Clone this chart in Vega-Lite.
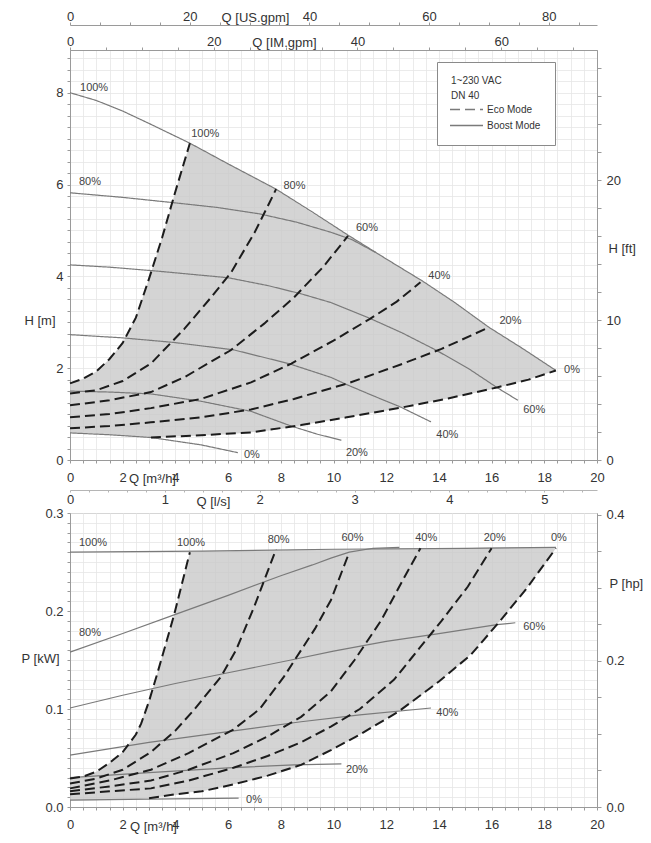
{
  "$schema": "https://vega.github.io/schema/vega-lite/v6.json",
  "padding": {"left": 20, "top": 9, "right": 5, "bottom": 5},
  "spacing": 53,
  "bounds": "flush",
  "config": {
    "font": "Liberation Sans",
    "view": {"stroke": "#9a9a9a", "strokeWidth": 1},
    "axis": {
      "labelFont": "Liberation Sans", "labelFontSize": 13, "labelColor": "#333",
      "titleFont": "Liberation Sans", "titleFontSize": 13, "titleFontWeight": "normal", "titleColor": "#333",
      "domainColor": "#9a9a9a", "tickColor": "#9a9a9a", "gridColor": "#e6e6e6", "gridWidth": 0.8,
      "tickSize": 3, "labelFlush": false, "labelOverlap": false, "labelBound": false
    }
  },
  "datasets": {
    "head": [
      {"curve":"100%","mode":"Boost Mode","q":0,"h":8.0},{"curve":"100%","mode":"Boost Mode","q":1,"h":7.83},{"curve":"100%","mode":"Boost Mode","q":2,"h":7.6},{"curve":"100%","mode":"Boost Mode","q":3,"h":7.33},{"curve":"100%","mode":"Boost Mode","q":4.55,"h":6.9},{"curve":"100%","mode":"Boost Mode","q":6,"h":6.45},{"curve":"100%","mode":"Boost Mode","q":7.82,"h":5.9},{"curve":"100%","mode":"Boost Mode","q":9.2,"h":5.4},{"curve":"100%","mode":"Boost Mode","q":10.6,"h":4.88},{"curve":"100%","mode":"Boost Mode","q":12,"h":4.38},{"curve":"100%","mode":"Boost Mode","q":13.4,"h":3.89},{"curve":"100%","mode":"Boost Mode","q":14.6,"h":3.43},{"curve":"100%","mode":"Boost Mode","q":15.9,"h":2.89},{"curve":"100%","mode":"Boost Mode","q":17.2,"h":2.42},{"curve":"100%","mode":"Boost Mode","q":18.44,"h":1.95},
      {"curve":"80%","mode":"Boost Mode","q":0,"h":5.82},{"curve":"80%","mode":"Boost Mode","q":2,"h":5.72},{"curve":"80%","mode":"Boost Mode","q":4,"h":5.6},{"curve":"80%","mode":"Boost Mode","q":5.6,"h":5.5},{"curve":"80%","mode":"Boost Mode","q":7.2,"h":5.36},{"curve":"80%","mode":"Boost Mode","q":8.6,"h":5.18},{"curve":"80%","mode":"Boost Mode","q":9.9,"h":4.96},{"curve":"80%","mode":"Boost Mode","q":10.7,"h":4.8},{"curve":"80%","mode":"Boost Mode","q":11.6,"h":4.52},
      {"curve":"60%","mode":"Boost Mode","q":0,"h":4.25},{"curve":"60%","mode":"Boost Mode","q":1.5,"h":4.2},{"curve":"60%","mode":"Boost Mode","q":3.2,"h":4.12},{"curve":"60%","mode":"Boost Mode","q":6,"h":3.97},{"curve":"60%","mode":"Boost Mode","q":7.5,"h":3.8},{"curve":"60%","mode":"Boost Mode","q":8.77,"h":3.62},{"curve":"60%","mode":"Boost Mode","q":9.9,"h":3.43},{"curve":"60%","mode":"Boost Mode","q":11.4,"h":3.08},{"curve":"60%","mode":"Boost Mode","q":12.6,"h":2.77},{"curve":"60%","mode":"Boost Mode","q":13.9,"h":2.39},{"curve":"60%","mode":"Boost Mode","q":15.1,"h":2.0},{"curve":"60%","mode":"Boost Mode","q":16.2,"h":1.58},{"curve":"60%","mode":"Boost Mode","q":17,"h":1.3},
      {"curve":"40%","mode":"Boost Mode","q":0,"h":2.73},{"curve":"40%","mode":"Boost Mode","q":2,"h":2.66},{"curve":"40%","mode":"Boost Mode","q":3.95,"h":2.56},{"curve":"40%","mode":"Boost Mode","q":6.2,"h":2.4},{"curve":"40%","mode":"Boost Mode","q":8.3,"h":2.1},{"curve":"40%","mode":"Boost Mode","q":9.9,"h":1.8},{"curve":"40%","mode":"Boost Mode","q":10.55,"h":1.63},{"curve":"40%","mode":"Boost Mode","q":11.5,"h":1.4},{"curve":"40%","mode":"Boost Mode","q":12.56,"h":1.15},{"curve":"40%","mode":"Boost Mode","q":13.7,"h":0.83},
      {"curve":"20%","mode":"Boost Mode","q":0,"h":1.5},{"curve":"20%","mode":"Boost Mode","q":1.5,"h":1.48},{"curve":"20%","mode":"Boost Mode","q":3.07,"h":1.44},{"curve":"20%","mode":"Boost Mode","q":4.97,"h":1.28},{"curve":"20%","mode":"Boost Mode","q":6.87,"h":1.06},{"curve":"20%","mode":"Boost Mode","q":8.39,"h":0.74},{"curve":"20%","mode":"Boost Mode","q":9.4,"h":0.56},{"curve":"20%","mode":"Boost Mode","q":10.3,"h":0.43},
      {"curve":"0%","mode":"Boost Mode","q":0,"h":0.59},{"curve":"0%","mode":"Boost Mode","q":1.5,"h":0.55},{"curve":"0%","mode":"Boost Mode","q":3.07,"h":0.49},{"curve":"0%","mode":"Boost Mode","q":4.97,"h":0.33},{"curve":"0%","mode":"Boost Mode","q":6.37,"h":0.16},
      {"curve":"100%","mode":"Eco Mode","q":0,"h":1.67},{"curve":"100%","mode":"Eco Mode","q":0.5,"h":1.77},{"curve":"100%","mode":"Eco Mode","q":1,"h":1.93},{"curve":"100%","mode":"Eco Mode","q":1.5,"h":2.2},{"curve":"100%","mode":"Eco Mode","q":2,"h":2.55},{"curve":"100%","mode":"Eco Mode","q":2.5,"h":3.1},{"curve":"100%","mode":"Eco Mode","q":3,"h":3.95},{"curve":"100%","mode":"Eco Mode","q":3.5,"h":4.85},{"curve":"100%","mode":"Eco Mode","q":4,"h":5.85},{"curve":"100%","mode":"Eco Mode","q":4.55,"h":6.9},
      {"curve":"80%","mode":"Eco Mode","q":0,"h":1.45},{"curve":"80%","mode":"Eco Mode","q":1,"h":1.52},{"curve":"80%","mode":"Eco Mode","q":2,"h":1.72},{"curve":"80%","mode":"Eco Mode","q":3.07,"h":2.1},{"curve":"80%","mode":"Eco Mode","q":4.33,"h":2.85},{"curve":"80%","mode":"Eco Mode","q":5.35,"h":3.54},{"curve":"80%","mode":"Eco Mode","q":6.11,"h":4.08},{"curve":"80%","mode":"Eco Mode","q":7,"h":4.95},{"curve":"80%","mode":"Eco Mode","q":7.55,"h":5.58},{"curve":"80%","mode":"Eco Mode","q":7.82,"h":5.9},
      {"curve":"60%","mode":"Eco Mode","q":0,"h":1.19},{"curve":"60%","mode":"Eco Mode","q":1.5,"h":1.3},{"curve":"60%","mode":"Eco Mode","q":3.07,"h":1.48},{"curve":"60%","mode":"Eco Mode","q":4.33,"h":1.8},{"curve":"60%","mode":"Eco Mode","q":6.1,"h":2.39},{"curve":"60%","mode":"Eco Mode","q":7.37,"h":2.97},{"curve":"60%","mode":"Eco Mode","q":8.5,"h":3.54},{"curve":"60%","mode":"Eco Mode","q":9.6,"h":4.2},{"curve":"60%","mode":"Eco Mode","q":10.55,"h":4.88},
      {"curve":"40%","mode":"Eco Mode","q":0,"h":0.93},{"curve":"40%","mode":"Eco Mode","q":1.5,"h":1.0},{"curve":"40%","mode":"Eco Mode","q":3.07,"h":1.13},{"curve":"40%","mode":"Eco Mode","q":4.97,"h":1.33},{"curve":"40%","mode":"Eco Mode","q":6.87,"h":1.69},{"curve":"40%","mode":"Eco Mode","q":8.4,"h":2.1},{"curve":"40%","mode":"Eco Mode","q":10,"h":2.6},{"curve":"40%","mode":"Eco Mode","q":11.4,"h":3.08},{"curve":"40%","mode":"Eco Mode","q":12.4,"h":3.45},{"curve":"40%","mode":"Eco Mode","q":13.3,"h":3.87},
      {"curve":"20%","mode":"Eco Mode","q":0,"h":0.69},{"curve":"20%","mode":"Eco Mode","q":1.5,"h":0.74},{"curve":"20%","mode":"Eco Mode","q":3.07,"h":0.82},{"curve":"20%","mode":"Eco Mode","q":4.97,"h":0.93},{"curve":"20%","mode":"Eco Mode","q":6.87,"h":1.1},{"curve":"20%","mode":"Eco Mode","q":8.5,"h":1.33},{"curve":"20%","mode":"Eco Mode","q":10.55,"h":1.67},{"curve":"20%","mode":"Eco Mode","q":12.5,"h":2.07},{"curve":"20%","mode":"Eco Mode","q":14.1,"h":2.42},{"curve":"20%","mode":"Eco Mode","q":15.9,"h":2.89},
      {"curve":"0%","mode":"Eco Mode","q":3.07,"h":0.49},{"curve":"0%","mode":"Eco Mode","q":4.97,"h":0.54},{"curve":"0%","mode":"Eco Mode","q":6.87,"h":0.6},{"curve":"0%","mode":"Eco Mode","q":8.77,"h":0.76},{"curve":"0%","mode":"Eco Mode","q":10.5,"h":0.93},{"curve":"0%","mode":"Eco Mode","q":12.56,"h":1.14},{"curve":"0%","mode":"Eco Mode","q":14.35,"h":1.34},{"curve":"0%","mode":"Eco Mode","q":16.2,"h":1.58},{"curve":"0%","mode":"Eco Mode","q":17.4,"h":1.75},{"curve":"0%","mode":"Eco Mode","q":18.44,"h":1.95}
    ],
    "headFill": [
      {"q":0,"top":1.67,"bot":0.59},{"q":0.5,"top":1.77,"bot":0.58},{"q":1,"top":1.93,"bot":0.57},{"q":1.5,"top":2.2,"bot":0.55},{"q":2,"top":2.55,"bot":0.53},{"q":2.5,"top":3.1,"bot":0.51},{"q":3,"top":3.95,"bot":0.5},{"q":3.5,"top":4.85,"bot":0.5},{"q":4,"top":5.85,"bot":0.51},{"q":4.55,"top":6.9,"bot":0.525},{"q":5,"top":6.76,"bot":0.535},{"q":6,"top":6.45,"bot":0.56},{"q":7,"top":6.14,"bot":0.61},{"q":7.82,"top":5.9,"bot":0.66},{"q":9,"top":5.45,"bot":0.78},{"q":10.6,"top":4.88,"bot":0.94},{"q":12,"top":4.38,"bot":1.08},{"q":13.4,"top":3.89,"bot":1.24},{"q":14.35,"top":3.52,"bot":1.34},{"q":15.9,"top":2.89,"bot":1.53},{"q":17.2,"top":2.42,"bot":1.72},{"q":18.44,"top":1.95,"bot":1.95}
    ],
    "headLabels": [
      {"q":0.38,"h":8.1,"text":"100%"},{"q":0.34,"h":6.06,"text":"80%"},{"q":4.6,"h":7.1,"text":"100%"},{"q":8.1,"h":5.97,"text":"80%"},{"q":10.85,"h":5.06,"text":"60%"},{"q":13.6,"h":4.0,"text":"40%"},{"q":16.3,"h":3.02,"text":"20%"},{"q":18.75,"h":1.96,"text":"0%"},{"q":17.2,"h":1.08,"text":"60%"},{"q":13.9,"h":0.54,"text":"40%"},{"q":10.47,"h":0.15,"text":"20%"},{"q":6.6,"h":0.11,"text":"0%"}
    ],
    "power": [
      {"curve":"100%","mode":"Boost Mode","q":0,"p":0.26},{"curve":"100%","mode":"Boost Mode","q":5,"p":0.261},{"curve":"100%","mode":"Boost Mode","q":10,"p":0.263},{"curve":"100%","mode":"Boost Mode","q":15,"p":0.264},{"curve":"100%","mode":"Boost Mode","q":18.44,"p":0.265},
      {"curve":"80%","mode":"Boost Mode","q":0,"p":0.158},{"curve":"80%","mode":"Boost Mode","q":2,"p":0.177},{"curve":"80%","mode":"Boost Mode","q":3.95,"p":0.196},{"curve":"80%","mode":"Boost Mode","q":6,"p":0.216},{"curve":"80%","mode":"Boost Mode","q":8,"p":0.236},{"curve":"80%","mode":"Boost Mode","q":9.2,"p":0.247},{"curve":"80%","mode":"Boost Mode","q":9.9,"p":0.254},{"curve":"80%","mode":"Boost Mode","q":10.6,"p":0.26},{"curve":"80%","mode":"Boost Mode","q":11.5,"p":0.264},{"curve":"80%","mode":"Boost Mode","q":12.5,"p":0.265},
      {"curve":"60%","mode":"Boost Mode","q":0,"p":0.101},{"curve":"60%","mode":"Boost Mode","q":2,"p":0.114},{"curve":"60%","mode":"Boost Mode","q":4,"p":0.126},{"curve":"60%","mode":"Boost Mode","q":6,"p":0.137},{"curve":"60%","mode":"Boost Mode","q":8.39,"p":0.15},{"curve":"60%","mode":"Boost Mode","q":10,"p":0.159},{"curve":"60%","mode":"Boost Mode","q":12,"p":0.169},{"curve":"60%","mode":"Boost Mode","q":14,"p":0.177},{"curve":"60%","mode":"Boost Mode","q":16.2,"p":0.186},{"curve":"60%","mode":"Boost Mode","q":16.9,"p":0.188},
      {"curve":"40%","mode":"Boost Mode","q":0,"p":0.053},{"curve":"40%","mode":"Boost Mode","q":3,"p":0.066},{"curve":"40%","mode":"Boost Mode","q":6,"p":0.077},{"curve":"40%","mode":"Boost Mode","q":8.77,"p":0.087},{"curve":"40%","mode":"Boost Mode","q":11,"p":0.094},{"curve":"40%","mode":"Boost Mode","q":13.7,"p":0.101},
      {"curve":"20%","mode":"Boost Mode","q":0,"p":0.03},{"curve":"20%","mode":"Boost Mode","q":3,"p":0.035},{"curve":"20%","mode":"Boost Mode","q":6,"p":0.04},{"curve":"20%","mode":"Boost Mode","q":8.5,"p":0.043},{"curve":"20%","mode":"Boost Mode","q":10.3,"p":0.044},
      {"curve":"0%","mode":"Boost Mode","q":0,"p":0.007},{"curve":"0%","mode":"Boost Mode","q":3,"p":0.008},{"curve":"0%","mode":"Boost Mode","q":6.4,"p":0.009},
      {"curve":"100%","mode":"Eco Mode","q":0,"p":0.029},{"curve":"100%","mode":"Eco Mode","q":0.5,"p":0.031},{"curve":"100%","mode":"Eco Mode","q":1,"p":0.036},{"curve":"100%","mode":"Eco Mode","q":1.5,"p":0.045},{"curve":"100%","mode":"Eco Mode","q":2,"p":0.056},{"curve":"100%","mode":"Eco Mode","q":2.5,"p":0.074},{"curve":"100%","mode":"Eco Mode","q":2.7,"p":0.085},{"curve":"100%","mode":"Eco Mode","q":3,"p":0.108},{"curve":"100%","mode":"Eco Mode","q":3.3,"p":0.135},{"curve":"100%","mode":"Eco Mode","q":3.6,"p":0.163},{"curve":"100%","mode":"Eco Mode","q":3.95,"p":0.196},{"curve":"100%","mode":"Eco Mode","q":4.25,"p":0.228},{"curve":"100%","mode":"Eco Mode","q":4.55,"p":0.26},
      {"curve":"80%","mode":"Eco Mode","q":0,"p":0.024},{"curve":"80%","mode":"Eco Mode","q":1,"p":0.029},{"curve":"80%","mode":"Eco Mode","q":2,"p":0.038},{"curve":"80%","mode":"Eco Mode","q":3.07,"p":0.056},{"curve":"80%","mode":"Eco Mode","q":4,"p":0.078},{"curve":"80%","mode":"Eco Mode","q":4.7,"p":0.099},{"curve":"80%","mode":"Eco Mode","q":5.73,"p":0.133},{"curve":"80%","mode":"Eco Mode","q":6.3,"p":0.16},{"curve":"80%","mode":"Eco Mode","q":7,"p":0.205},{"curve":"80%","mode":"Eco Mode","q":7.82,"p":0.263},
      {"curve":"60%","mode":"Eco Mode","q":0,"p":0.019},{"curve":"60%","mode":"Eco Mode","q":1.5,"p":0.027},{"curve":"60%","mode":"Eco Mode","q":3.07,"p":0.038},{"curve":"60%","mode":"Eco Mode","q":4.5,"p":0.055},{"curve":"60%","mode":"Eco Mode","q":6.2,"p":0.079},{"curve":"60%","mode":"Eco Mode","q":7.2,"p":0.1},{"curve":"60%","mode":"Eco Mode","q":8.12,"p":0.133},{"curve":"60%","mode":"Eco Mode","q":8.6,"p":0.153},{"curve":"60%","mode":"Eco Mode","q":9.3,"p":0.182},{"curve":"60%","mode":"Eco Mode","q":9.9,"p":0.211},{"curve":"60%","mode":"Eco Mode","q":10.6,"p":0.26},
      {"curve":"40%","mode":"Eco Mode","q":0,"p":0.016},{"curve":"40%","mode":"Eco Mode","q":1.5,"p":0.021},{"curve":"40%","mode":"Eco Mode","q":3.07,"p":0.027},{"curve":"40%","mode":"Eco Mode","q":4.5,"p":0.038},{"curve":"40%","mode":"Eco Mode","q":6.2,"p":0.055},{"curve":"40%","mode":"Eco Mode","q":7.5,"p":0.072},{"curve":"40%","mode":"Eco Mode","q":8.77,"p":0.092},{"curve":"40%","mode":"Eco Mode","q":9.9,"p":0.118},{"curve":"40%","mode":"Eco Mode","q":10.8,"p":0.15},{"curve":"40%","mode":"Eco Mode","q":11.8,"p":0.19},{"curve":"40%","mode":"Eco Mode","q":12.6,"p":0.23},{"curve":"40%","mode":"Eco Mode","q":13.3,"p":0.264},
      {"curve":"20%","mode":"Eco Mode","q":0,"p":0.013},{"curve":"20%","mode":"Eco Mode","q":1.5,"p":0.016},{"curve":"20%","mode":"Eco Mode","q":3.07,"p":0.019},{"curve":"20%","mode":"Eco Mode","q":4.5,"p":0.027},{"curve":"20%","mode":"Eco Mode","q":6.2,"p":0.04},{"curve":"20%","mode":"Eco Mode","q":7.5,"p":0.052},{"curve":"20%","mode":"Eco Mode","q":8.77,"p":0.066},{"curve":"20%","mode":"Eco Mode","q":9.9,"p":0.082},{"curve":"20%","mode":"Eco Mode","q":11,"p":0.1},{"curve":"20%","mode":"Eco Mode","q":12.3,"p":0.13},{"curve":"20%","mode":"Eco Mode","q":12.9,"p":0.15},{"curve":"20%","mode":"Eco Mode","q":14.1,"p":0.19},{"curve":"20%","mode":"Eco Mode","q":15.1,"p":0.225},{"curve":"20%","mode":"Eco Mode","q":16,"p":0.264},
      {"curve":"0%","mode":"Eco Mode","q":3,"p":0.009},{"curve":"0%","mode":"Eco Mode","q":4,"p":0.013},{"curve":"0%","mode":"Eco Mode","q":5,"p":0.016},{"curve":"0%","mode":"Eco Mode","q":6.2,"p":0.023},{"curve":"0%","mode":"Eco Mode","q":7.5,"p":0.032},{"curve":"0%","mode":"Eco Mode","q":8.77,"p":0.043},{"curve":"0%","mode":"Eco Mode","q":9.9,"p":0.058},{"curve":"0%","mode":"Eco Mode","q":11,"p":0.074},{"curve":"0%","mode":"Eco Mode","q":12.45,"p":0.097},{"curve":"0%","mode":"Eco Mode","q":14,"p":0.128},{"curve":"0%","mode":"Eco Mode","q":15.2,"p":0.155},{"curve":"0%","mode":"Eco Mode","q":16.2,"p":0.186},{"curve":"0%","mode":"Eco Mode","q":17.3,"p":0.222},{"curve":"0%","mode":"Eco Mode","q":18.44,"p":0.264}
    ],
    "powerFill": [
      {"q":0,"top":0.029,"bot":0.007},{"q":0.5,"top":0.031,"bot":0.007},{"q":1,"top":0.036,"bot":0.007},{"q":1.5,"top":0.045,"bot":0.008},{"q":2,"top":0.056,"bot":0.008},{"q":2.5,"top":0.074,"bot":0.008},{"q":3,"top":0.108,"bot":0.009},{"q":3.3,"top":0.135,"bot":0.01},{"q":3.6,"top":0.163,"bot":0.011},{"q":3.95,"top":0.196,"bot":0.012},{"q":4.25,"top":0.228,"bot":0.013},{"q":4.55,"top":0.26,"bot":0.015},{"q":5,"top":0.261,"bot":0.016},{"q":6,"top":0.261,"bot":0.022},{"q":7,"top":0.262,"bot":0.028},{"q":8,"top":0.262,"bot":0.035},{"q":9,"top":0.263,"bot":0.045},{"q":10,"top":0.263,"bot":0.059},{"q":11,"top":0.263,"bot":0.074},{"q":12,"top":0.264,"bot":0.09},{"q":13,"top":0.264,"bot":0.107},{"q":14,"top":0.264,"bot":0.128},{"q":15,"top":0.264,"bot":0.15},{"q":16,"top":0.265,"bot":0.18},{"q":17,"top":0.265,"bot":0.212},{"q":18,"top":0.265,"bot":0.247},{"q":18.44,"top":0.265,"bot":0.264}
    ],
    "powerLabels": [
      {"q":0.34,"p":0.269,"text":"100%"},{"q":0.34,"p":0.178,"text":"80%"},{"q":4.06,"p":0.269,"text":"100%"},{"q":7.5,"p":0.272,"text":"80%"},{"q":10.3,"p":0.274,"text":"60%"},{"q":13.1,"p":0.274,"text":"40%"},{"q":15.7,"p":0.274,"text":"20%"},{"q":18.25,"p":0.274,"text":"0%"},{"q":17.2,"p":0.184,"text":"60%"},{"q":13.9,"p":0.096,"text":"40%"},{"q":10.47,"p":0.038,"text":"20%"},{"q":6.68,"p":0.007,"text":"0%"}
    ]
  },
  "vconcat": [
    {
      "width": 527, "height": 410,
      "resolve": {"axis": {"x": "independent", "y": "independent"}},
      "layer": [
        {
          "data": {"name": "headFill"},
          "mark": {"type": "area", "color": "#c9c9c9", "opacity": 0.8},
          "encoding": {
            "x": {"field": "q", "type": "quantitative", "scale": {"domain": [0, 20], "nice": false, "zero": false},
              "axis": {"orient": "bottom", "grid": true, "values": [0,0.5,1,1.5,2,2.5,3,3.5,4,4.5,5,5.5,6,6.5,7,7.5,8,8.5,9,9.5,10,10.5,11,11.5,12,12.5,13,13.5,14,14.5,15,15.5,16,16.5,17,17.5,18,18.5,19,19.5,20],
                "labelExpr": "datum.value % 2 == 0 ? format(datum.value, 'd') : ''", "labelPadding": 8,
                "title": "Q [m³/h]", "titleX": 82, "titleY": 18, "titleAlign": "center", "titleBaseline": "middle"}},
            "y": {"field": "top", "type": "quantitative", "scale": {"domain": [0, 8.93], "nice": false, "zero": false},
              "axis": {"orient": "left", "grid": true, "values": [0,0.25,0.5,0.75,1,1.25,1.5,1.75,2,2.25,2.5,2.75,3,3.25,3.5,3.75,4,4.25,4.5,4.75,5,5.25,5.5,5.75,6,6.25,6.5,6.75,7,7.25,7.5,7.75,8,8.25,8.5,8.75],
                "labelExpr": "datum.value % 2 == 0 ? format(datum.value, 'd') : ''", "labelPadding": 4,
                "title": "H [m]", "titleAngle": 0, "titleAlign": "left", "titleBaseline": "middle", "titleX": -46, "titleY": 270}},
            "y2": {"field": "bot"}
          }
        },
        {
          "data": {"name": "head"},
          "transform": [{"filter": "datum.mode == 'Boost Mode'"}],
          "mark": {"type": "line", "color": "#7a7a7a", "strokeWidth": 1.2},
          "encoding": {
            "x": {"field": "q", "type": "quantitative", "scale": {"domain": [0, 20], "nice": false, "zero": false},
              "axis": {"orient": "bottom", "offset": 30, "domainColor": "#b5b5b5", "tickColor": "#b5b5b5", "tickSize": 2, "labelPadding": 1,
                "values": [0,0.72,1.44,2.16,2.88,3.6,4.32,5.04,5.76,6.48,7.2,7.92,8.64,9.36,10.08,10.8,11.52,12.24,12.96,13.68,14.4,15.12,15.84,16.56,17.28,18,18.72,19.44],
                "labelExpr": "abs(datum.value/3.6 - round(datum.value/3.6)) < 0.001 ? format(round(datum.value/3.6), 'd') : ''",
                "title": "Q [l/s]", "titleX": 143, "titleY": 11, "titleAlign": "center", "titleBaseline": "middle"}},
            "y": {"field": "h", "type": "quantitative", "scale": {"domain": [0, 8.93], "nice": false, "zero": false},
              "axis": {"orient": "right", "tickSize": 4, "labelPadding": 5,
                "values": [0,0.6096,1.2192,1.8288,2.4384,3.048,3.6576,4.2672,4.8768,5.4864,6.096,6.7056,7.3152,7.9248,8.5344],
                "labelExpr": "round(datum.value*3.28084) % 10 == 0 ? format(round(datum.value*3.28084), 'd') : ''",
                "title": "H [ft]", "titleAngle": 0, "titleAlign": "left", "titleBaseline": "middle", "titleX": 11, "titleY": 198}},
            "detail": {"field": "curve"},
            "strokeDash": {"field": "mode", "type": "nominal",
              "scale": {"domain": ["Eco Mode", "Boost Mode"], "range": [[10, 5], [1, 0]]},
              "legend": {"orient": "none", "legendX": 367, "legendY": 12,
                "title": ["1~230 VAC", "DN 40"], "titleFontSize": 10, "titleFontWeight": "normal", "titleColor": "#333", "titleFont": "Liberation Sans",
                "titleLineHeight": 15, "titlePadding": 2,
                "labelFontSize": 10, "labelColor": "#333", "labelFont": "Liberation Sans",
                "symbolType": "M-3,0H3", "symbolSize": 121, "symbolOffset": 9, "labelOffset": 14, "rowPadding": 4,
                "strokeColor": "#8a8a8a", "fillColor": "white", "padding": 14,
                "encode": {"symbols": {"update": {"stroke": {"value": "#8c8c8c"}, "fill": {"value": "transparent"}, "strokeWidth": {"value": 1}, "strokeDash": {"signal": "datum.value === 'Eco Mode' ? [3, 3] : [1, 0]"}}}}}}
          }
        },
        {
          "data": {"name": "head"},
          "transform": [{"filter": "datum.mode == 'Eco Mode'"}],
          "mark": {"type": "line", "color": "#1c1c1c", "strokeWidth": 2, "strokeDash": [10, 5]},
          "encoding": {
            "x": {"field": "q", "type": "quantitative", "scale": {"domain": [0, 20], "nice": false, "zero": false},
              "axis": {"orient": "top", "offset": 0, "labelPadding": -1,
                "values": [0,1.36383,2.72765,4.09148,5.45531,6.81914,8.18296,9.54679,10.91062,12.27444,13.63827,15.0021,16.36592,17.72975,19.09358],
                "labelExpr": "round(datum.value*3.66614) % 20 == 0 ? format(round(datum.value*3.66614), 'd') : ''",
                "title": "Q [IM.gpm]", "titleX": 214, "titleY": -8, "titleAlign": "center", "titleBaseline": "middle"}},
            "y": {"field": "h", "type": "quantitative", "scale": {"domain": [0, 8.93], "nice": false, "zero": false}, "axis": null},
            "detail": {"field": "curve"}
          }
        },
        {
          "data": {"name": "headLabels"},
          "mark": {"type": "text", "align": "left", "baseline": "middle", "fontSize": 11, "color": "#444", "font": "Liberation Sans"},
          "encoding": {
            "x": {"field": "q", "type": "quantitative", "scale": {"domain": [0, 20], "nice": false, "zero": false},
              "axis": {"orient": "top", "offset": 25, "labelPadding": -1,
                "values": [0,1.13562,2.27125,3.40687,4.54249,5.67812,6.81374,7.94936,9.08499,10.22061,11.35624,12.49186,13.62748,14.76311,15.89873,17.03435,18.16998,19.3056],
                "labelExpr": "round(datum.value*4.40287) % 20 == 0 ? format(round(datum.value*4.40287), 'd') : ''",
                "title": "Q [US.gpm]", "titleX": 185, "titleY": -8, "titleAlign": "center", "titleBaseline": "middle"}},
            "y": {"field": "h", "type": "quantitative", "scale": {"domain": [0, 8.93], "nice": false, "zero": false}, "axis": null},
            "text": {"field": "text"}
          }
        }
      ]
    },
    {
      "width": 527, "height": 294,
      "resolve": {"axis": {"x": "independent", "y": "independent"}},
      "layer": [
        {
          "data": {"name": "powerFill"},
          "mark": {"type": "area", "color": "#c9c9c9", "opacity": 0.8},
          "encoding": {
            "x": {"field": "q", "type": "quantitative", "scale": {"domain": [0, 20], "nice": false, "zero": false},
              "axis": {"orient": "bottom", "grid": true, "values": [0,0.5,1,1.5,2,2.5,3,3.5,4,4.5,5,5.5,6,6.5,7,7.5,8,8.5,9,9.5,10,10.5,11,11.5,12,12.5,13,13.5,14,14.5,15,15.5,16,16.5,17,17.5,18,18.5,19,19.5,20],
                "labelExpr": "datum.value % 2 == 0 ? format(datum.value, 'd') : ''", "labelPadding": 8,
                "title": "Q [m³/h]", "titleX": 83, "titleY": 19, "titleAlign": "center", "titleBaseline": "middle"}},
            "y": {"field": "top", "type": "quantitative", "scale": {"domain": [0, 0.3], "nice": false, "zero": false},
              "axis": {"orient": "left", "grid": true, "values": [0,0.01,0.02,0.03,0.04,0.05,0.06,0.07,0.08,0.09,0.1,0.11,0.12,0.13,0.14,0.15,0.16,0.17,0.18,0.19,0.2,0.21,0.22,0.23,0.24,0.25,0.26,0.27,0.28,0.29,0.3],
                "labelExpr": "round(datum.value*100) % 10 == 0 ? format(datum.value, '.1f') : ''", "labelPadding": 4,
                "title": "P [kW]", "titleAngle": 0, "titleAlign": "left", "titleBaseline": "middle", "titleX": -49, "titleY": 145}},
            "y2": {"field": "bot"}
          }
        },
        {
          "data": {"name": "power"},
          "transform": [{"filter": "datum.mode == 'Boost Mode'"}],
          "mark": {"type": "line", "color": "#7a7a7a", "strokeWidth": 1.2},
          "encoding": {
            "x": {"field": "q", "type": "quantitative", "scale": {"domain": [0, 20], "nice": false, "zero": false}, "axis": null},
            "y": {"field": "p", "type": "quantitative", "scale": {"domain": [0, 0.3], "nice": false, "zero": false},
              "axis": {"orient": "right", "tickSize": 4, "labelPadding": 5,
                "values": [0,0.037285,0.07457,0.111855,0.14914,0.186425,0.22371,0.260995,0.29828],
                "labelExpr": "round(datum.value/0.7457*20) % 4 == 0 ? format(datum.value/0.7457, '.1f') : ''",
                "title": "P [hp]", "titleAngle": 0, "titleAlign": "left", "titleBaseline": "middle", "titleX": 12, "titleY": 70}},
            "detail": {"field": "curve"}
          }
        },
        {
          "data": {"name": "power"},
          "transform": [{"filter": "datum.mode == 'Eco Mode'"}],
          "mark": {"type": "line", "color": "#1c1c1c", "strokeWidth": 2, "strokeDash": [10, 5]},
          "encoding": {
            "x": {"field": "q", "type": "quantitative", "scale": {"domain": [0, 20], "nice": false, "zero": false}, "axis": null},
            "y": {"field": "p", "type": "quantitative", "scale": {"domain": [0, 0.3], "nice": false, "zero": false}, "axis": null},
            "detail": {"field": "curve"}
          }
        },
        {
          "data": {"name": "powerLabels"},
          "mark": {"type": "text", "align": "left", "baseline": "middle", "fontSize": 11, "color": "#444", "font": "Liberation Sans"},
          "encoding": {
            "x": {"field": "q", "type": "quantitative", "scale": {"domain": [0, 20], "nice": false, "zero": false}, "axis": null},
            "y": {"field": "p", "type": "quantitative", "scale": {"domain": [0, 0.3], "nice": false, "zero": false}, "axis": null},
            "text": {"field": "text"}
          }
        }
      ]
    }
  ]
}
